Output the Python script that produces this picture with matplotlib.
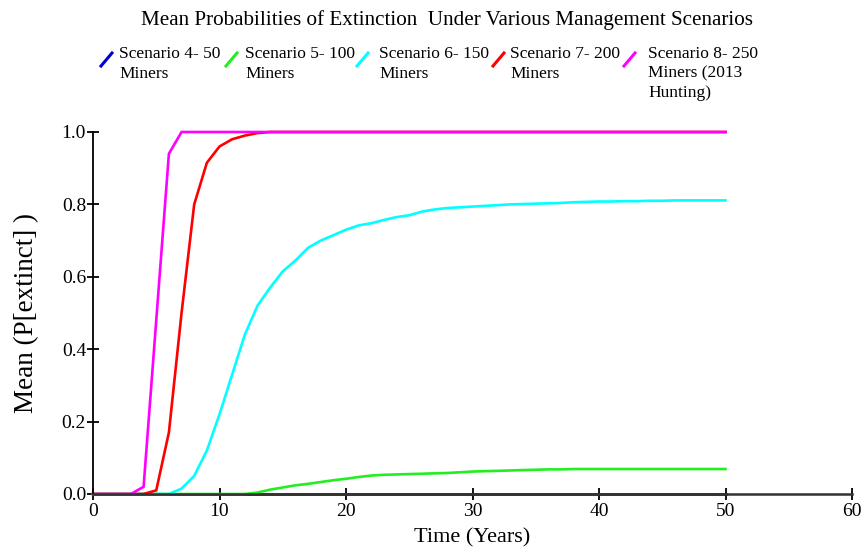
import numpy as np
import matplotlib
matplotlib.use("Agg")
import matplotlib.pyplot as plt
from matplotlib.lines import Line2D

# yearly time steps
years = np.arange(0, 51)

# mean P[extinct] per scenario
sc4 = [0.0] * 51
sc5 = [0, 0, 0, 0, 0, 0, 0, 0, 0, 0, 0, 0, 0, 0.004, 0.012, 0.018, 0.024, 0.028,
       0.033, 0.038, 0.042, 0.047, 0.051, 0.053, 0.054, 0.055, 0.056, 0.057, 0.058,
       0.060, 0.062, 0.063, 0.064, 0.065, 0.066, 0.067, 0.068, 0.068, 0.069, 0.069,
       0.069, 0.069, 0.069, 0.069, 0.069, 0.069, 0.069, 0.069, 0.069, 0.069, 0.069]
sc6 = [0, 0, 0, 0, 0, 0, 0, 0.015, 0.05, 0.12, 0.22, 0.33, 0.44, 0.52, 0.57, 0.615,
       0.645, 0.68, 0.70, 0.715, 0.73, 0.742, 0.748, 0.757, 0.765, 0.77, 0.78, 0.786,
       0.79, 0.792, 0.794, 0.796, 0.798, 0.80, 0.801, 0.802, 0.803, 0.804, 0.806,
       0.807, 0.808, 0.808, 0.809, 0.809, 0.810, 0.810, 0.811, 0.811, 0.811, 0.811, 0.811]
sc7 = [0, 0, 0, 0, 0, 0.01, 0.17, 0.50, 0.80, 0.915, 0.96, 0.98, 0.99, 0.997] + [1.0] * 37
sc8 = [0, 0, 0, 0, 0.02, 0.48, 0.94] + [1.0] * 44

labels = ["Scenario 4- 50\nMiners", "Scenario 5- 100\nMiners", "Scenario 6- 150\nMiners",
          "Scenario 7- 200\nMiners", "Scenario 8- 250\nMiners (2013\nHunting)"]
colors = ["#0000d0", "#22ee22", "#00ffff", "#ff0000", "#ff00ff"]
series = [sc4, sc5, sc6, sc7, sc8]

plt.rcParams['font.family'] = ['Liberation Serif', 'DejaVu Serif']

W, H = 865, 551
fig = plt.figure(figsize=(W / 100, H / 100), dpi=100)
ax = fig.add_axes([93 / W, 1 - 494 / H, (852 - 93) / W, (494 - 132) / H])

for s, c in zip(series, colors):
    ax.plot(years, s, color=c, lw=1.9, solid_joinstyle='miter', clip_on=False)

ax.set_xlim(0, 60)
ax.set_ylim(0, 1.0)
ax.set_xticks(np.arange(0, 61, 10))
ax.set_yticks(np.arange(0, 1.01, 0.2))
ax.set_yticklabels(["%.1f" % v for v in np.arange(0, 1.01, 0.2)])
ax.tick_params(direction='inout', length=9, width=1.3, labelsize=14)
ax.tick_params(axis='y', pad=0.5)
ax.tick_params(axis='x', pad=2)
for sp in ["top", "right"]:
    ax.spines[sp].set_visible(False)
ax.spines["left"].set_linewidth(1.3)
ax.spines["bottom"].set_linewidth(1.8)
ax.spines["bottom"].set_color("#333333")

ax.set_xlabel("Time (Years)", fontsize=16, labelpad=6)
ax.set_ylabel("Mean (P[extinct] )", fontsize=19.5, labelpad=16)

fig.text(447 / W, 1 - 20 / H, "Mean Probabilities of Extinction  Under Various Management Scenarios",
         ha='center', va='center', fontsize=15.2)

# legend built by hand: slanted glyph + wrapped label
glyph_x = [101, 226, 357, 493, 624]
text_x = [119, 245, 379, 510, 648]
for gx, tx, lab, c in zip(glyph_x, text_x, labels, colors):
    fig.add_artist(Line2D([gx / W, (gx + 11) / W], [1 - 66 / H, 1 - 53 / H],
                          color=c, lw=2.2, transform=fig.transFigure))
    fig.text(tx / W, 1 - 46 / H, lab, ha='left', va='top', fontsize=12.5,
             linespacing=1.3)

fig.savefig("out.png", dpi=100)
